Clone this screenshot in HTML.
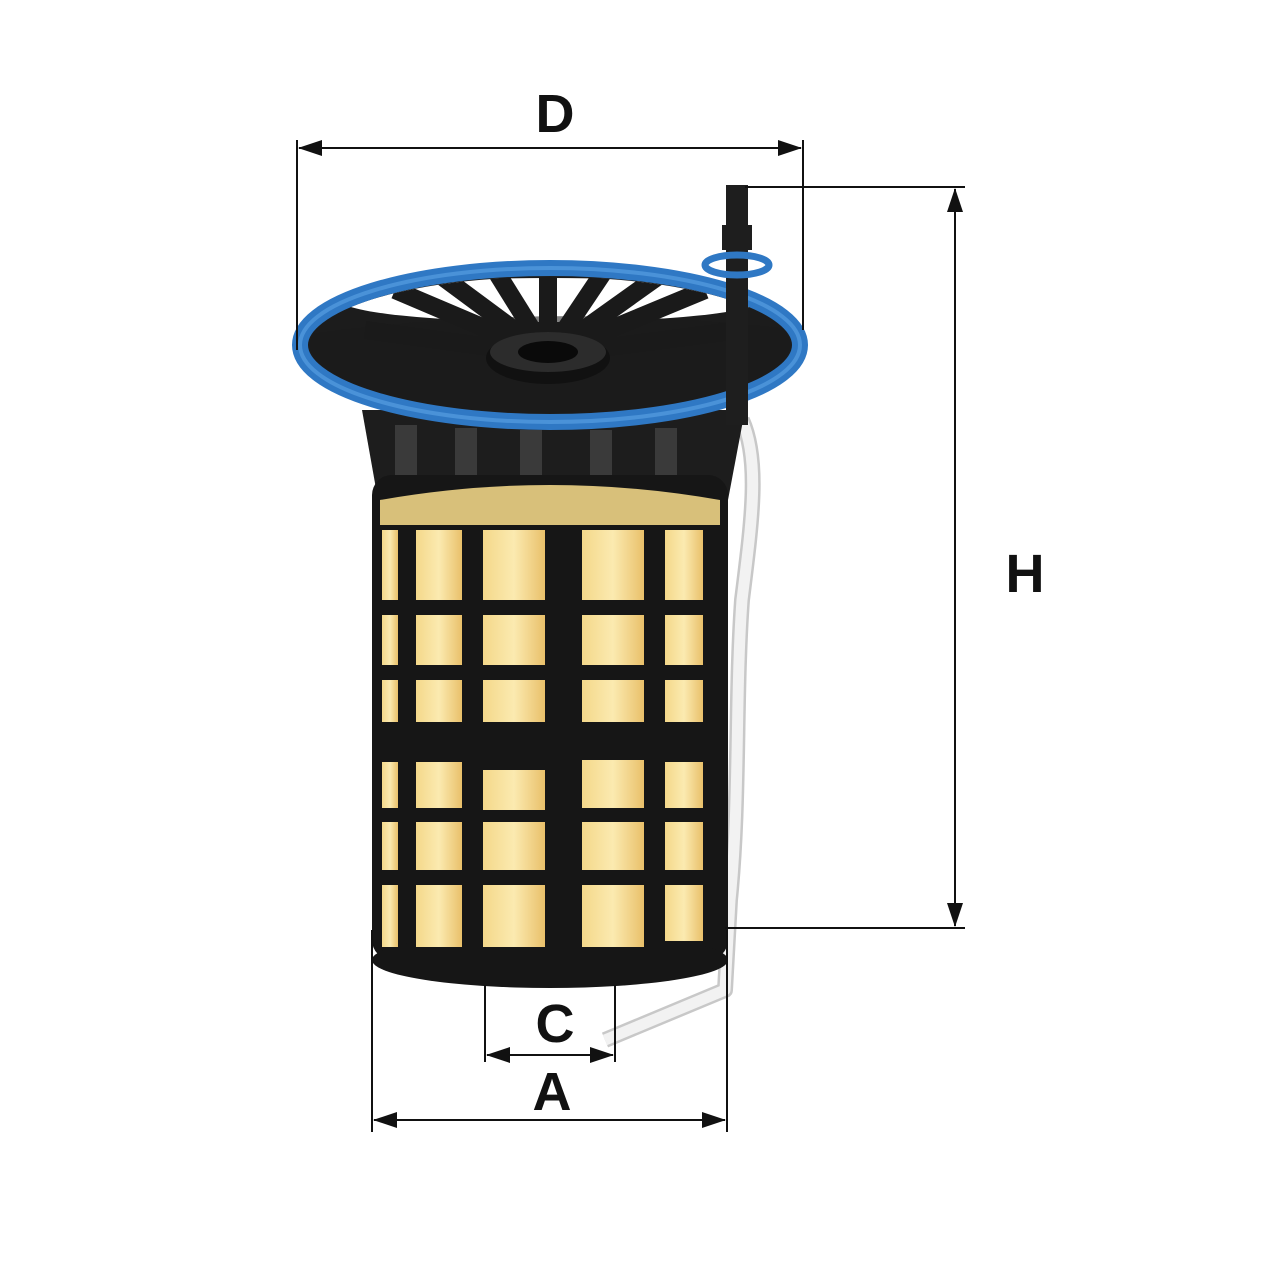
<!DOCTYPE html>
<html><head><meta charset="utf-8"><style>
html,body{margin:0;padding:0;background:#fff;}
svg{display:block;}
text{font-family:"Liberation Sans",sans-serif;font-weight:bold;fill:#111;}
</style></head><body>
<svg width="1280" height="1280" viewBox="0 0 1280 1280" xmlns="http://www.w3.org/2000/svg">
<defs>
<marker id="ar" viewBox="0 0 24 16" refX="23" refY="8" markerWidth="24" markerHeight="16" orient="auto-start-reverse" markerUnits="userSpaceOnUse">
<path d="M0,0 L24,8 L0,16 Z" fill="#111"/></marker>
<linearGradient id="yel" x1="0" x2="1"><stop offset="0" stop-color="#f4d88a"/><stop offset="0.5" stop-color="#fbeab0"/><stop offset="1" stop-color="#e9c06a"/></linearGradient>
<clipPath id="inner"><ellipse cx="550" cy="345" rx="240" ry="68"/></clipPath>
</defs>

<!-- hose -->
<path d="M742,420 C760,460 752,520 742,600 C735,700 740,800 730,900 L725,990 L605,1040" fill="none" stroke="#c8c8c8" stroke-width="16" stroke-linejoin="round"/>
<path d="M742,420 C760,460 752,520 742,600 C735,700 740,800 730,900 L725,990 L605,1040" fill="none" stroke="#f2f2f2" stroke-width="11" stroke-linejoin="round"/>

<!-- top cone -->
<path d="M362,410 L745,410 L728,500 L378,500 Z" fill="#1d1d1d"/>
<g fill="#3a3a3a">
<rect x="395" y="425" width="22" height="60"/><rect x="455" y="428" width="22" height="62"/><rect x="520" y="430" width="22" height="62"/><rect x="590" y="430" width="22" height="62"/><rect x="655" y="428" width="22" height="60"/>
</g>

<!-- body -->
<rect x="372" y="475" width="356" height="485" rx="20" fill="#161616"/>
<ellipse cx="550" cy="960" rx="178" ry="28" fill="#161616"/>
<path d="M380,500 Q550,470 720,500 L720,525 L380,525 Z" fill="#d8c07a"/>
<g fill="url(#yel)">
<rect x="382" y="530" width="16" height="70"/><rect x="416" y="530" width="46" height="70"/><rect x="483" y="530" width="62" height="70"/><rect x="582" y="530" width="62" height="70"/><rect x="665" y="530" width="38" height="70"/>
<rect x="382" y="615" width="16" height="50"/><rect x="416" y="615" width="46" height="50"/><rect x="483" y="615" width="62" height="50"/><rect x="582" y="615" width="62" height="50"/><rect x="665" y="615" width="38" height="50"/>
<rect x="382" y="680" width="16" height="42"/><rect x="416" y="680" width="46" height="42"/><rect x="483" y="680" width="62" height="42"/><rect x="582" y="680" width="62" height="42"/><rect x="665" y="680" width="38" height="42"/>
<rect x="382" y="762" width="16" height="46"/><rect x="416" y="762" width="46" height="46"/><rect x="483" y="770" width="62" height="40"/><rect x="582" y="760" width="62" height="48"/><rect x="665" y="762" width="38" height="46"/>
<rect x="382" y="822" width="16" height="48"/><rect x="416" y="822" width="46" height="48"/><rect x="483" y="822" width="62" height="48"/><rect x="582" y="822" width="62" height="48"/><rect x="665" y="822" width="38" height="48"/>
<rect x="382" y="885" width="16" height="62"/><rect x="416" y="885" width="46" height="62"/><rect x="483" y="885" width="62" height="62"/><rect x="582" y="885" width="62" height="62"/><rect x="665" y="885" width="38" height="56"/>
</g>
<rect x="372" y="726" width="356" height="30" fill="#161616"/>

<!-- top ring area -->
<ellipse cx="550" cy="350" rx="245" ry="75" fill="#1c1c1c"/>
<g clip-path="url(#inner)">
<ellipse cx="550" cy="300" rx="210" ry="22" fill="#fff"/>
<ellipse cx="550" cy="330" rx="205" ry="35" fill="#1c1c1c" opacity="0.0"/>
<g stroke="#1a1a1a" stroke-width="18">
<line x1="548" y1="355" x2="365" y2="330"/><line x1="548" y1="355" x2="395" y2="290"/><line x1="548" y1="355" x2="440" y2="275"/><line x1="548" y1="355" x2="495" y2="270"/><line x1="548" y1="355" x2="548" y2="265"/><line x1="548" y1="355" x2="605" y2="270"/><line x1="548" y1="355" x2="660" y2="275"/><line x1="548" y1="355" x2="705" y2="290"/><line x1="548" y1="355" x2="740" y2="330"/>
</g>
<path d="M300,335 Q550,300 800,330 L800,420 L300,420 Z" fill="#1c1c1c" opacity="0.55"/>
</g>
<ellipse cx="548" cy="358" rx="62" ry="26" fill="#111"/>
<ellipse cx="548" cy="352" rx="58" ry="20" fill="#2c2c2c"/>
<ellipse cx="548" cy="352" rx="30" ry="11" fill="#0a0a0a"/>
<ellipse cx="550" cy="345" rx="250" ry="77" fill="none" stroke="#2f78c4" stroke-width="16"/>
<ellipse cx="550" cy="345" rx="250" ry="77" fill="none" stroke="#4a92d8" stroke-width="4"/>

<!-- pipe -->
<rect x="726" y="185" width="22" height="240" fill="#1e1e1e"/>
<rect x="722" y="225" width="30" height="25" fill="#1e1e1e"/>
<ellipse cx="737" cy="265" rx="32" ry="10" fill="none" stroke="#2f78c4" stroke-width="7"/>

<!-- dimension lines -->
<g stroke="#111" stroke-width="2" fill="none">
<line x1="297" y1="140" x2="297" y2="350"/><line x1="803" y1="140" x2="803" y2="330"/>
<line x1="299" y1="148" x2="801" y2="148" marker-start="url(#ar)" marker-end="url(#ar)"/>
<line x1="745" y1="187" x2="965" y2="187"/><line x1="725" y1="928" x2="965" y2="928"/>
<line x1="955" y1="189" x2="955" y2="926" marker-start="url(#ar)" marker-end="url(#ar)"/>
<line x1="372" y1="930" x2="372" y2="1132"/><line x1="727" y1="930" x2="727" y2="1132"/>
<line x1="374" y1="1120" x2="725" y2="1120" marker-start="url(#ar)" marker-end="url(#ar)"/>
<line x1="485" y1="985" x2="485" y2="1062"/><line x1="615" y1="985" x2="615" y2="1062"/>
<line x1="487" y1="1055" x2="613" y2="1055" marker-start="url(#ar)" marker-end="url(#ar)"/>
</g>
<text x="555" y="132" font-size="54" text-anchor="middle">D</text>
<text x="1025" y="592" font-size="54" text-anchor="middle">H</text>
<text x="552" y="1110" font-size="54" text-anchor="middle">A</text>
<text x="555" y="1042" font-size="54" text-anchor="middle">C</text>
</svg>
</body></html>
